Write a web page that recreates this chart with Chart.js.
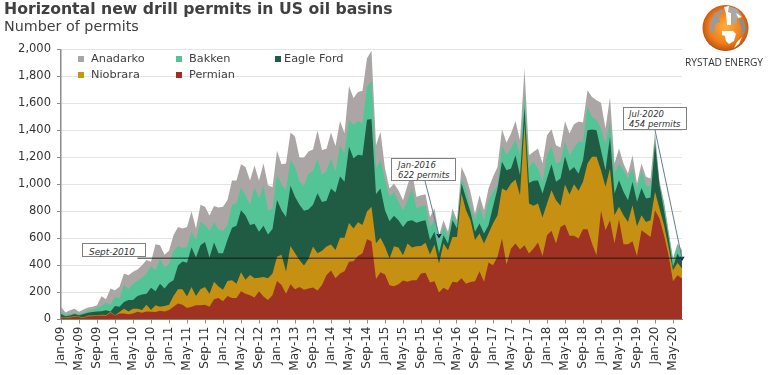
<!DOCTYPE html>
<html lang="en">
<head>
  <meta charset="UTF-8">
  <title>Horizontal new drill permits in US oil basins</title>
  <script src="https://cdn.jsdelivr.net/npm/chart.js"></script>
  <style>
    html, body { margin: 0; padding: 0; background: #fff; }
    #wrap { position: relative; width: 768px; height: 375px; overflow: hidden; font-family: "DejaVu Sans", sans-serif; color: #404040; }
    canvas { position: absolute; left: 0; top: 0; }
    #title { position: absolute; left: 4px; top: -1px; font-size: 15.7px; font-weight: bold; white-space: nowrap; }
    #subtitle { position: absolute; left: 4px; top: 18px; font-size: 14.3px; white-space: nowrap; }
    .leg { position: absolute; font-size: 11.3px; line-height: 14px; white-space: nowrap; }
    .leg i { position: absolute; top: 3px; width: 6px; height: 6px; }
    .leg span { position: absolute; left: 13px; top: -1px; }
    .note { position: absolute; box-sizing: border-box; background: #fff; border: 1px solid #7f7f7f; font-size: 8.5px; font-style: italic; line-height: 10px; color: #333; white-space: nowrap; }
    #brand { position: absolute; left: 685px; top: 55px; width: 83px; font-family: "Open Sans", sans-serif; font-size: 10.2px; color: #333; white-space: nowrap; }
    svg { position: absolute; left: 700px; top: 3px; }
  </style>
</head>
<body>
  <div id="wrap">
    <canvas id="permitChart" width="768" height="375"></canvas>
    <div id="title">Horizontal new drill permits in US oil basins</div>
    <div id="subtitle">Number of permits</div>

    <div class="leg" style="left:78px;top:53px"><i style="background:#aba6a5"></i><span>Anadarko</span></div>
    <div class="leg" style="left:176px;top:53px"><i style="background:#52c496"></i><span>Bakken</span></div>
    <div class="leg" style="left:275px;top:53px"><i style="background:#205c43"></i><span style="left:9px">Eagle Ford</span></div>
    <div class="leg" style="left:78px;top:69px"><i style="background:#c8950f"></i><span>Niobrara</span></div>
    <div class="leg" style="left:176px;top:69px"><i style="background:#a52d1f"></i><span>Permian</span></div>

    <div class="note" style="left:82px;top:243px;width:64px;height:14px;padding:3px 0 0 6px;font-size:8.9px">Sept-2010</div>
    <div class="note" style="left:391px;top:158px;width:65px;height:23px;padding:1px 0 0 6px">Jan-2016<br>622 permits</div>
    <div class="note" style="left:623px;top:107px;width:64px;height:23px;padding:1px 0 0 5px">Jul-2020<br>454 permits</div>

    <svg width="50" height="50" viewBox="0 0 50 50">
      <defs>
        <radialGradient id="globe" cx="50%" cy="48%" r="55%">
          <stop offset="0%" stop-color="#fbb040"/>
          <stop offset="65%" stop-color="#ef7d1a"/>
          <stop offset="90%" stop-color="#c85a10"/>
          <stop offset="100%" stop-color="#5e2a0c"/>
        </radialGradient>
      </defs>
      <circle cx="25.5" cy="25" r="23" fill="url(#globe)"/>
      <path d="M10 20 L15 10 L24 6 L22 11 L18 12 L20 19 L15 21 L14 31 L10 28 Z" fill="#9a9a9a"/>
      <path d="M29 3 L37 6 L42 13 L37 13 L37 20 L32 21 L31 10 L28 8 Z" fill="#a8a8a8"/>
      <path d="M39 16 L44 17 L46 26 L42 34 L41 24 Z" fill="#8c8c8c"/>
      <path d="M24 4 L29 3 L28 9 L31 10 L31 22 L33 22 L27 22 L26 11 Z" fill="#fff"/>
      <path d="M22 28 L33 28 L36 31 L34 38 L29 41 L26 38 L25 33 L22 32 Z" fill="#fff"/>
      <path d="M36 10 L42 14 L38 15 Z" fill="#fff"/>
      <path d="M42 34 L39 41 L34 45 L37 39 Z" fill="#fff"/>
    </svg>
    <div id="brand">RYSTAD ENERGY</div>
  </div>

  <script>
    const months = [
      'Jan-09','Feb-09','Mar-09','Apr-09','May-09','Jun-09','Jul-09','Aug-09','Sep-09','Oct-09','Nov-09','Dec-09',
      'Jan-10','Feb-10','Mar-10','Apr-10','May-10','Jun-10','Jul-10','Aug-10','Sep-10','Oct-10','Nov-10','Dec-10',
      'Jan-11','Feb-11','Mar-11','Apr-11','May-11','Jun-11','Jul-11','Aug-11','Sep-11','Oct-11','Nov-11','Dec-11',
      'Jan-12','Feb-12','Mar-12','Apr-12','May-12','Jun-12','Jul-12','Aug-12','Sep-12','Oct-12','Nov-12','Dec-12',
      'Jan-13','Feb-13','Mar-13','Apr-13','May-13','Jun-13','Jul-13','Aug-13','Sep-13','Oct-13','Nov-13','Dec-13',
      'Jan-14','Feb-14','Mar-14','Apr-14','May-14','Jun-14','Jul-14','Aug-14','Sep-14','Oct-14','Nov-14','Dec-14',
      'Jan-15','Feb-15','Mar-15','Apr-15','May-15','Jun-15','Jul-15','Aug-15','Sep-15','Oct-15','Nov-15','Dec-15',
      'Jan-16','Feb-16','Mar-16','Apr-16','May-16','Jun-16','Jul-16','Aug-16','Sep-16','Oct-16','Nov-16','Dec-16',
      'Jan-17','Feb-17','Mar-17','Apr-17','May-17','Jun-17','Jul-17','Aug-17','Sep-17','Oct-17','Nov-17','Dec-17',
      'Jan-18','Feb-18','Mar-18','Apr-18','May-18','Jun-18','Jul-18','Aug-18','Sep-18','Oct-18','Nov-18','Dec-18',
      'Jan-19','Feb-19','Mar-19','Apr-19','May-19','Jun-19','Jul-19','Aug-19','Sep-19','Oct-19','Nov-19','Dec-19',
      'Jan-20','Feb-20','Mar-20','Apr-20','May-20','Jun-20','Jul-20'
    ];

    const permian = [
      15,12,15,20,18,12,25,25,28,30,
      28,50,30,45,45,38,45,58,50,60,
      58,55,65,60,70,95,118,110,85,95,
      105,105,110,95,150,160,135,175,160,160,
      210,190,180,163,210,170,145,180,285,255,
      190,262,225,240,220,230,237,215,255,330,
      363,305,340,358,427,432,470,490,595,580,
      300,350,333,254,247,262,289,279,291,291,
      340,346,274,284,200,235,217,279,274,306,
      264,277,284,358,279,422,402,464,600,407,
      526,563,518,550,489,526,570,471,625,657,
      563,686,704,620,620,600,669,669,563,476,
      805,662,736,563,741,558,558,580,471,662,
      637,612,810,748,625,477,284,328,304
    ];
    const niobrara = [
      3,3,5,5,4,3,5,5,4,5,
      5,5,2,10,35,22,35,22,20,50,
      12,50,30,40,40,80,107,115,85,145,
      70,120,130,95,130,85,85,110,130,105,
      140,105,150,142,100,145,160,160,180,225,
      165,283,265,200,180,220,303,275,255,210,
      192,210,265,247,288,243,250,210,205,255,
      265,255,205,198,296,271,187,284,242,252,
      205,222,207,271,215,328,296,333,338,627,
      546,459,304,279,284,215,309,309,370,546,
      481,474,403,902,370,316,289,284,234,301,
      321,156,296,306,382,353,351,486,642,729,
      301,321,382,210,94,215,165,267,220,111,
      86,124,136,74,74,61,81,92,74
    ];
    const eagleFord = [
      22,10,10,15,10,25,20,25,28,27,
      35,5,68,40,50,85,65,95,115,80,
      165,105,170,130,160,115,175,205,250,295,
      285,325,335,270,290,245,270,305,390,430,
      460,475,370,405,340,380,325,330,420,330,
      405,445,420,410,405,365,310,445,360,340,
      415,425,455,415,565,520,500,515,680,650,
      365,365,272,276,225,202,210,165,202,173,
      183,167,107,95,75,62,50,123,62,74,
      90,61,62,74,74,62,124,197,198,153,
      111,180,148,123,153,185,171,178,185,192,
      136,202,210,174,128,127,160,247,202,197,
      148,123,235,160,197,173,161,173,181,202,
      173,168,358,173,111,74,25,69,49
    ];
    const bakken = [
      15,10,10,10,8,10,15,20,25,38,
      57,50,65,60,130,80,120,110,125,150,
      160,155,185,155,140,220,145,100,115,115,
      130,175,125,195,150,175,165,110,170,165,
      170,150,150,270,245,295,180,150,190,190,
      200,195,220,170,185,265,250,255,200,220,
      225,155,230,210,200,245,250,235,240,285,
      190,210,222,180,177,135,124,156,235,106,
      112,112,98,85,98,65,45,55,26,37,
      70,38,86,124,99,185,110,25,123,111,
      149,116,148,99,118,141,88,87,173,134,
      135,124,106,117,144,236,136,173,94,74,
      161,198,111,148,123,160,160,98,98,131,
      99,79,24,12,49,37,50,57,37
    ];
    const anadarko = [
      39,17,29,29,17,24,24,19,21,73,
      25,120,52,87,80,103,88,85,92,100,
      32,193,100,95,100,115,140,145,150,150,
      85,125,135,115,120,165,180,185,180,170,
      170,210,180,160,135,165,185,160,175,150,
      195,200,225,180,210,165,160,210,185,165,
      190,190,180,150,250,200,215,245,215,220,
      170,210,86,62,62,88,74,111,124,86,
      80,81,74,87,34,45,42,32,35,86,
      85,110,49,85,74,86,112,135,119,94,
      111,138,111,186,87,74,149,135,148,126,
      136,106,153,161,173,151,144,124,148,149,
      190,111,185,74,112,49,37,99,37,49,
      62,61,62,13,13,13,12,17,50
    ];

    // callout values
    const refLevel = 454;
    const refStart = 'Jun-10';
    const callouts = [
      { month: 'Jan-16', value: 622 },
      { month: 'Jul-20', value: 454 }
    ];

    const area = (label, data, color) => ({
      label, data, backgroundColor: color, borderWidth: 0, pointRadius: 0,
      fill: 'origin', tension: 0, order: 1
    });

    const refLine = months.map((m, i) => i >= months.indexOf(refStart) ? refLevel : null);
    const markers = months.map(m => {
      const c = callouts.find(c => c.month === m);
      return c ? c.value : null;
    });

    // leader lines from the note boxes down to the markers
    const leaders = {
      id: 'leaders',
      afterDatasetsDraw(chart) {
        const { ctx, scales } = chart;
        const ends = [[425, 181], [655, 130]];
        ctx.save();
        ctx.strokeStyle = '#5f7f8f';
        ctx.lineWidth = 1;
        callouts.forEach((c, i) => {
          ctx.beginPath();
          ctx.moveTo(ends[i][0], ends[i][1]);
          ctx.lineTo(scales.x.getPixelForValue(months.indexOf(c.month)), scales.y.getPixelForValue(c.value));
          ctx.stroke();
        });
        ctx.restore();
      }
    };

    new Chart(document.getElementById('permitChart'), {
      type: 'line',
      data: {
        labels: months,
        datasets: [
          area('Permian', permian, '#9f3223'),
          area('Niobrara', niobrara, '#c69113'),
          area('Eagle Ford', eagleFord, '#205c43'),
          area('Bakken', bakken, '#52c496'),
          area('Anadarko', anadarko, '#aba6a5'),
          { label: 'Level', data: refLine, stack: 'ref', borderColor: 'rgba(20,20,20,0.6)', borderWidth: 1.5, pointRadius: 0, fill: false, order: 0 },
          { label: 'Markers', data: markers, stack: 'mark', showLine: false, pointStyle: 'triangle', rotation: 180, pointRadius: 3, backgroundColor: '#10204a', borderWidth: 0, fill: false, order: -1 }
        ]
      },
      options: {
        responsive: false,
        animation: false,
        layout: { padding: { top: 49.5, right: 86, bottom: 0.5, left: 0 } },
        plugins: { legend: { display: false }, title: { display: false }, tooltip: { enabled: false } },
        scales: {
          x: {
            stacked: true,
            offset: false,
            grid: { drawOnChartArea: false, drawTicks: true, tickLength: 4, tickColor: '#8c8c8c' },
            border: { color: '#8c8c8c', width: 1 },
            ticks: { autoSkip: false, minRotation: 90, maxRotation: 90, padding: 3, color: '#333', font: { family: 'DejaVu Sans', size: 12 } },
            afterBuildTicks: s => { s.ticks = s.ticks.filter((t, i) => i % 4 === 0); },
            afterFit: s => { s.height = 55; }
          },
          y: {
            stacked: true,
            min: 0,
            max: 2000,
            grid: { color: '#e4e4e4', lineWidth: 1, tickLength: 4, tickColor: '#8c8c8c' },
            border: { color: '#8c8c8c', width: 1.5 },
            ticks: { stepSize: 200, padding: 6, color: '#333', font: { family: 'DejaVu Sans', size: 11.5 }, callback: v => v.toLocaleString('en-US') },
            afterFit: s => { s.width = 61; }
          }
        }
      },
      plugins: [leaders]
    });
  </script>
</body>
</html>
